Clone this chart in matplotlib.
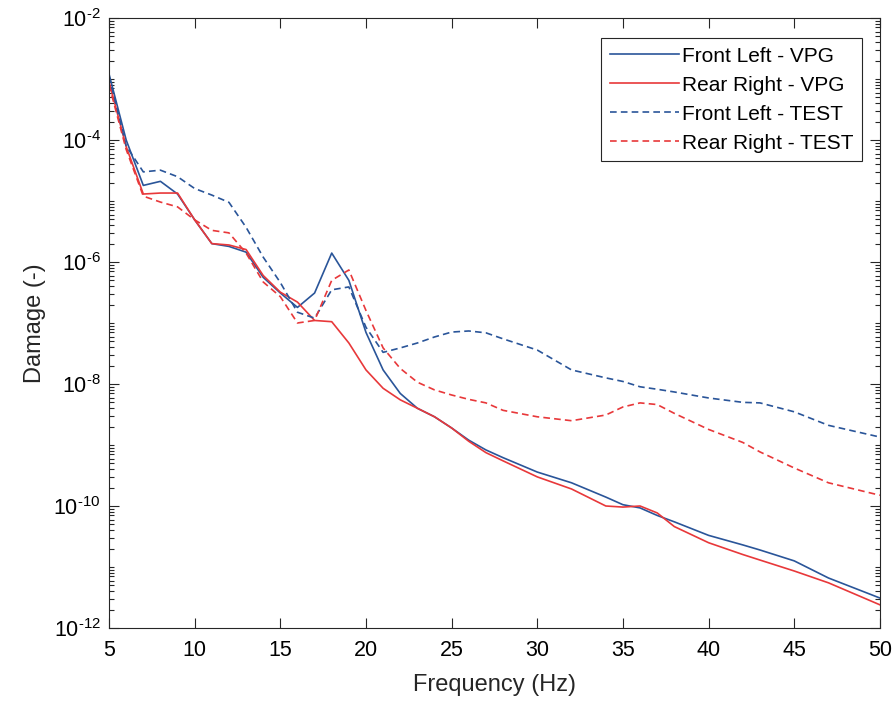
import numpy as np
import matplotlib
matplotlib.use('Agg')
import matplotlib.pyplot as plt
from matplotlib.ticker import LogLocator, FixedLocator, FixedFormatter, NullFormatter

plt.rcParams['font.family'] = ['Liberation Sans', 'DejaVu Sans']
plt.rcParams['mathtext.fontset'] = 'custom'
plt.rcParams['mathtext.rm'] = 'Liberation Sans'
plt.rcParams['mathtext.it'] = 'Liberation Sans:italic'
plt.rcParams['mathtext.bf'] = 'Liberation Sans:bold'

# Frequencies (Hz)
freq = [5, 6, 7, 8, 9, 10, 11, 12, 13, 14, 15, 16, 17, 18, 19, 20, 21, 22, 23,
        24, 25, 26, 27, 28, 30, 32, 34, 35, 36, 37, 38, 40, 42, 43, 45, 47, 50]

# Damage values
front_left_vpg = [1.2e-3, 1.0e-4, 1.8e-5, 2.1e-5, 1.3e-5, 4.9e-6, 2.0e-6, 1.8e-6,
                  1.45e-6, 5.6e-7, 3.1e-7, 1.8e-7, 3.1e-7, 1.4e-6, 5e-7, 7e-8,
                  1.7e-8, 7e-9, 4e-9, 2.9e-9, 1.9e-9, 1.2e-9, 8.3e-10, 6.2e-10,
                  3.6e-10, 2.4e-10, 1.4e-10, 1.05e-10, 9.3e-11, 7e-11, 5.5e-11,
                  3.3e-11, 2.3e-11, 1.9e-11, 1.26e-11, 6.6e-12, 3.1e-12]
rear_right_vpg = [9e-4, 7.8e-5, 1.3e-5, 1.35e-5, 1.35e-5, 4.9e-6, 2.0e-6, 1.9e-6,
                  1.6e-6, 6e-7, 3.2e-7, 2.2e-7, 1.1e-7, 1.05e-7, 4.7e-8, 1.7e-8,
                  8.5e-9, 5.5e-9, 4e-9, 2.9e-9, 1.9e-9, 1.15e-9, 7.5e-10, 5.5e-10,
                  3e-10, 1.9e-10, 1.0e-10, 9.6e-11, 1.0e-10, 7.7e-11, 4.6e-11,
                  2.5e-11, 1.6e-11, 1.3e-11, 8.6e-12, 5.5e-12, 2.4e-12]
front_left_test = [1.1e-3, 8e-5, 3e-5, 3.2e-5, 2.5e-5, 1.6e-5, 1.25e-5, 9.5e-6,
                   3.7e-6, 1.2e-6, 4.6e-7, 1.5e-7, 1.2e-7, 3.5e-7, 3.9e-7, 8.5e-8,
                   3.3e-8, 3.9e-8, 4.7e-8, 5.9e-8, 7.1e-8, 7.4e-8, 6.9e-8, 5.5e-8,
                   3.6e-8, 1.7e-8, 1.26e-8, 1.1e-8, 9e-9, 8.2e-9, 7.4e-9,
                   5.9e-9, 5e-9, 4.9e-9, 3.5e-9, 2.1e-9, 1.35e-9]
rear_right_test = [8e-4, 7e-5, 1.2e-5, 9.6e-6, 8e-6, 4.9e-6, 3.3e-6, 3e-6,
                   1.4e-6, 4.7e-7, 2.7e-7, 1e-7, 1.1e-7, 5e-7, 7.4e-7, 1.6e-7,
                   3.9e-8, 1.8e-8, 1.07e-8, 8e-9, 6.6e-9, 5.6e-9, 4.9e-9, 3.7e-9,
                   2.9e-9, 2.5e-9, 3.1e-9, 4.2e-9, 4.9e-9, 4.6e-9, 3.3e-9,
                   1.8e-9, 1.1e-9, 7.7e-10, 4.2e-10, 2.4e-10, 1.5e-10]

# y tick exponents (labelled every second decade)
y_exponents = [-12, -10, -8, -6, -4, -2]

blue = '#2a5599'
red = '#e8383a'
dark = '#262626'

fig = plt.figure(figsize=(8.96, 7.08), dpi=100)
ax = fig.add_axes([0.1217, 0.113, 0.8603, 0.8616])

ax.semilogy(freq, front_left_vpg, color=blue, lw=1.2, label='Front Left - VPG')
ax.semilogy(freq, rear_right_vpg, color=red, lw=1.2, label='Rear Right - VPG')
ax.semilogy(freq, front_left_test, color=blue, lw=1.2, ls=(0, (4, 2.5)),
            label='Front Left - TEST')
ax.semilogy(freq, rear_right_test, color=red, lw=1.2, ls=(0, (4, 2.5)),
            label='Rear Right - TEST')

ax.set_xlim(5, 50)
ax.set_ylim(1e-12, 1e-2)
ax.set_xticks(range(5, 51, 5))
ax.yaxis.set_major_locator(FixedLocator([10.0 ** e for e in y_exponents]))
# hyphen-style minus in the exponent, like the original
ax.yaxis.set_major_formatter(FixedFormatter(
    ['$10^{\u2010%d}$' % abs(e) for e in y_exponents]))
ax.yaxis.set_minor_locator(LogLocator(base=10, subs=np.arange(1, 10), numticks=100))
ax.yaxis.set_minor_formatter(NullFormatter())

ax.tick_params(which='both', direction='in', top=True, right=True,
               labelsize=15.5, width=0.8, color=dark)
ax.tick_params(which='major', length=7)
ax.tick_params(which='minor', length=3.5)
ax.tick_params(axis='x', pad=9)
ax.tick_params(axis='y', pad=6)
for s in ax.spines.values():
    s.set_linewidth(0.8)
    s.set_color(dark)

ax.set_xlabel('Frequency (Hz)', fontsize=17, color=dark, labelpad=9)
ax.set_ylabel('Damage (-)', fontsize=17, color=dark, labelpad=5)

leg = ax.legend(loc='upper right', bbox_to_anchor=(0.9767, 0.9672), fontsize=15,
                fancybox=False, framealpha=1, edgecolor=dark, borderaxespad=0,
                handlelength=3.3, handletextpad=0.15, labelspacing=0.48,
                borderpad=0.42)
leg.get_frame().set_linewidth(0.8)

fig.savefig('out.png', dpi=100)
